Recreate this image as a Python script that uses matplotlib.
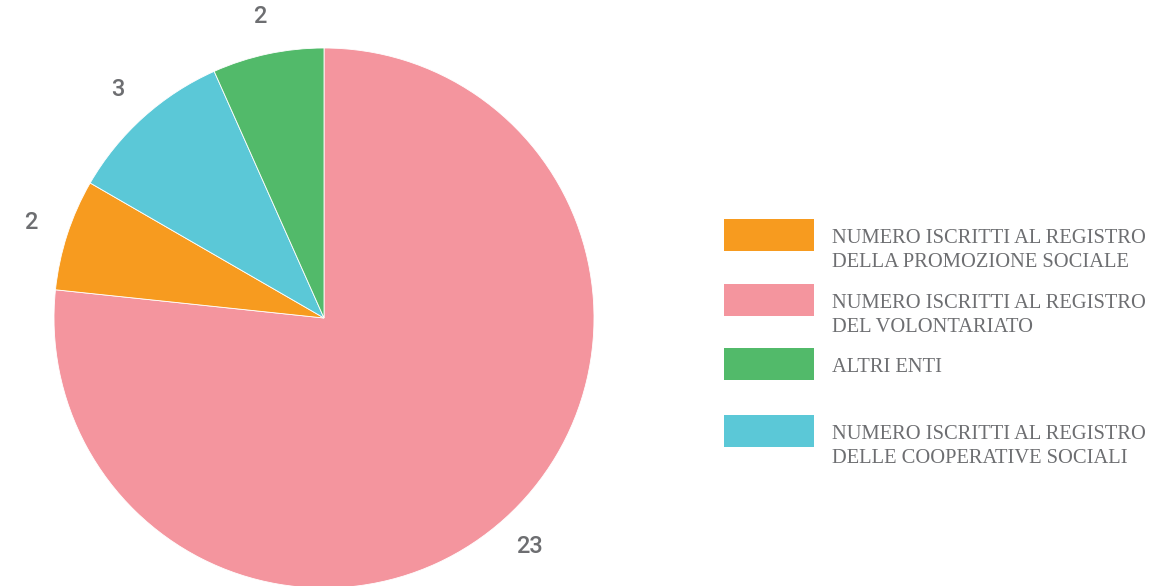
import matplotlib
matplotlib.use("Agg")
import matplotlib.pyplot as plt
from matplotlib.patches import Rectangle

# Data (clockwise from top)
pie_labels = ["NUMERO ISCRITTI AL REGISTRO\nDEL VOLONTARIATO",
              "NUMERO ISCRITTI AL REGISTRO\nDELLA PROMOZIONE SOCIALE",
              "NUMERO ISCRITTI AL REGISTRO\nDELLE COOPERATIVE SOCIALI",
              "ALTRI ENTI"]
pie_values = [23, 2, 3, 2]
pie_colors = ["#F4959E", "#F79B1F", "#5BC8D7", "#52BA6A"]

legend_labels = ["NUMERO ISCRITTI AL REGISTRO\nDELLA PROMOZIONE SOCIALE",
                 "NUMERO ISCRITTI AL REGISTRO\nDEL VOLONTARIATO",
                 "ALTRI ENTI",
                 "NUMERO ISCRITTI AL REGISTRO\nDELLE COOPERATIVE SOCIALI"]
legend_colors = ["#F79B1F", "#F4959E", "#52BA6A", "#5BC8D7"]

W, H = 1150, 586
TEXT = "#6D6E71"
fig = plt.figure(figsize=(W / 100, H / 100), dpi=100)
fig.patch.set_facecolor("white")

cx, cy, r = 324, 318, 270
ax = fig.add_axes([(cx - r) / W, (H - cy - r) / H, 2 * r / W, 2 * r / H])
wedges, texts = ax.pie(pie_values, colors=pie_colors, startangle=90, counterclock=False,
                       radius=1, labels=[str(v) for v in pie_values], labeldistance=1.14,
                       wedgeprops=dict(linewidth=0.6, edgecolor="white"),
                       textprops=dict(fontsize=17, color=TEXT, family="Roboto",
                                      fontweight="medium"))
for t in texts:
    t.set_ha("center"); t.set_va("center")
    t.set_clip_on(False)
for w in wedges:
    w.set_clip_on(False)
ax.set_xlim(-1, 1); ax.set_ylim(-1, 1)
ax.set_aspect("equal")
ax.axis("off")

# Legend, drawn by hand (pixel positions from top)
patch_tops = [219, 284, 348, 415]
for lab, col, top in zip(legend_labels, legend_colors, patch_tops):
    fig.patches.append(Rectangle((724 / W, (H - top - 32) / H), 90 / W, 32 / H,
                                 transform=fig.transFigure, facecolor=col, edgecolor="none"))
    fig.text(832 / W, (H - top - 10) / H, lab, ha="left", va="top", fontsize=14.8,
             color=TEXT, family="Liberation Serif", linespacing=1.36)

fig.savefig("out.png", dpi=100, facecolor="white")
